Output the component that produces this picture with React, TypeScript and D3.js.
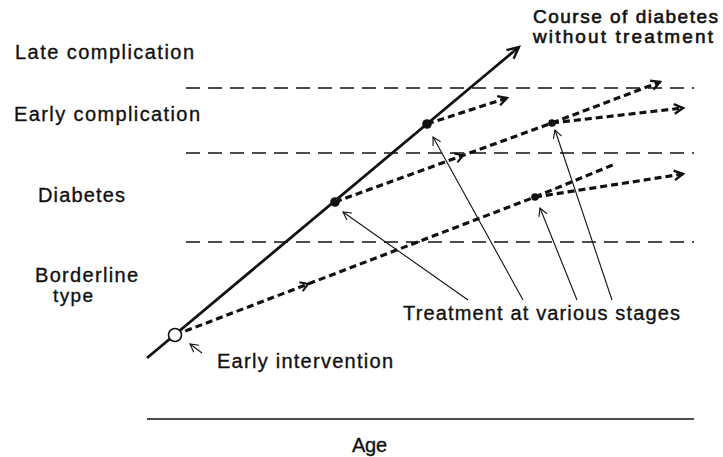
import * as d3 from 'd3';

// severity stages (bottom to top) and the dashed borders between them
const stageLabels = ['Late complication', 'Early complication', 'Diabetes', 'Borderline', 'type'];
const stageBorders = [82.75, 66.5, 44.25];
const borderAgeRange = [7.13, 100];

// untreated course: [age, stage]
const naturalCourse: [number, number][] = [
  [0, 15.25],
  [68, 93],
];

// where treatment starts on the natural course
const startAges = [5.12, 34.37, 51.19];
const startStages = [21, 54.25, 73.75];

// later treatment points reached on the treated paths
const laterAges = [70.93, 74.04];
const laterStages = [55.5, 74];

// treated courses: from, to, arrow head at the end, arrow in the middle
const pathFrom: [number, number][] = [
  [5.12, 21], [70.93, 55.5], [70.93, 55.5],
  [34.37, 54.25], [74.04, 74], [74.04, 74],
  [51.19, 73.75],
];
const pathTo: [number, number][] = [
  [70.93, 55.5], [85.56, 63.75], [97.99, 61.25],
  [74.04, 74], [93.78, 84.25], [97.99, 77.75],
  [65.81, 80.25],
];
const pathHead = [false, false, true, false, true, true, true];
const pathMid = [0.37, 0, 0, 0.59, 0, 0, 0];

// thin pointers from the labels: [fromAge, fromStage, toAge, toStage]
const pointers: [number, number, number, number][] = [
  [58.68, 29.75, 35.83, 51.75],
  [68.74, 29.75, 52.29, 70.5],
  [78.61, 29.75, 71.85, 52.75],
  [85.01, 29.75, 74.59, 72.25],
  [10.05, 16.5, 7.86, 18.75],
];

const W = 723;
const H = 457;
const FONT = '"Liberation Sans", Arial, sans-serif';

const x = d3.scaleLinear().domain([0, 100]).range([147, 694]);
const y = d3.scaleLinear().domain([0, 100]).range([419, 19]);

const line = d3.line<[number, number]>().x((d) => x(d[0])).y((d) => y(d[1]));

// open V head with its tip at (tx, ty) pointing along (dx, dy)
const vHead = (tx: number, ty: number, dx: number, dy: number, len: number, spread = 0.45) => {
  const a = Math.atan2(dy, dx);
  const p1 = [tx - len * Math.cos(a - spread), ty - len * Math.sin(a - spread)];
  const p2 = [tx - len * Math.cos(a + spread), ty - len * Math.sin(a + spread)];
  return `M${p1[0]},${p1[1]}L${tx},${ty}L${p2[0]},${p2[1]}`;
};

const Label = ({ tx, ty, len, children, size = 20, weight = 0.35 }: any) => (
  <text
    x={tx}
    y={ty}
    textLength={len}
    lengthAdjust="spacing"
    fontFamily={FONT}
    fontSize={size}
    fill="#111"
    stroke="#111"
    strokeWidth={weight}
  >
    {children}
  </text>
);

export default function App() {
  const nc0 = naturalCourse[0];
  const nc1 = naturalCourse[1];

  return (
    <svg width={W} height={H} style={{ position: 'absolute', left: 0, top: 0, background: '#fff' }}>
      {/* stage borders */}
      {stageBorders.map((s, i) => (
        <line
          key={i}
          x1={x(borderAgeRange[0])}
          x2={x(borderAgeRange[1])}
          y1={y(s)}
          y2={y(s)}
          stroke="#111"
          strokeWidth={1.4}
          strokeDasharray="14,8"
        />
      ))}

      {/* age axis */}
      <line x1={x(0)} x2={x(100)} y1={y(0)} y2={y(0)} stroke="#111" strokeWidth={1.4} />

      {/* thin pointers */}
      {pointers.map((p, i) => {
        const x0 = x(p[0]), y0 = y(p[1]), x1 = x(p[2]), y1 = y(p[3]);
        return (
          <g key={i} fill="none" stroke="#111" strokeWidth={1.1}>
            <line x1={x0} y1={y0} x2={x1} y2={y1} />
            <path d={vHead(x1, y1, x1 - x0, y1 - y0, 9, 0.5)} />
          </g>
        );
      })}

      {/* treated courses */}
      {pathFrom.map((f, i) => {
        const t = pathTo[i];
        const x0 = x(f[0]), y0 = y(f[1]), x1 = x(t[0]), y1 = y(t[1]);
        const m = pathMid[i];
        return (
          <g key={i} fill="none" stroke="#111" strokeWidth={3.2}>
            <path d={line([f, t]) ?? ''} strokeDasharray="7,4" />
            {pathHead[i] && <path d={vHead(x1, y1, x1 - x0, y1 - y0, 10, 0.5)} strokeWidth={2.4} />}
            {m > 0 && (
              <path
                d={vHead(x0 + m * (x1 - x0), y0 + m * (y1 - y0), x1 - x0, y1 - y0, 9, 0.55)}
                strokeWidth={2}
              />
            )}
          </g>
        );
      })}

      {/* natural course */}
      <path d={line(naturalCourse) ?? ''} fill="none" stroke="#111" strokeWidth={2.8} />
      <path
        d={vHead(x(nc1[0]), y(nc1[1]), x(nc1[0]) - x(nc0[0]), y(nc1[1]) - y(nc0[1]), 13, 0.45)}
        fill="none"
        stroke="#111"
        strokeWidth={2.4}
      />

      {/* treatment points */}
      {startAges.map((a, i) => (
        <circle
          key={i}
          cx={x(a)}
          cy={y(startStages[i])}
          r={i === 0 ? 6.5 : 4.8}
          fill={i === 0 ? '#fff' : '#111'}
          stroke="#111"
          strokeWidth={i === 0 ? 1.6 : 0}
        />
      ))}
      {laterAges.map((a, i) => (
        <circle key={i} cx={x(a)} cy={y(laterStages[i])} r={3.8} fill="#111" />
      ))}

      {/* stage labels */}
      <Label tx={15} ty={59} len={179}>{stageLabels[0]}</Label>
      <Label tx={14} ty={121} len={186}>{stageLabels[1]}</Label>
      <Label tx={38} ty={202} len={87}>{stageLabels[2]}</Label>
      <Label tx={35} ty={282} len={103}>{stageLabels[3]}</Label>
      <Label tx={53} ty={302} len={40} size={19}>{stageLabels[4]}</Label>

      {/* annotations */}
      <Label tx={533} ty={23} len={185} size={19} weight={0.6}>Course of diabetes</Label>
      <Label tx={533} ty={43} len={180} size={19} weight={0.6}>without treatment</Label>
      <Label tx={403} ty={320} len={277}>Treatment at various stages</Label>
      <Label tx={217} ty={368} len={176}>Early intervention</Label>
      <Label tx={352} ty={452} len={35}>Age</Label>
    </svg>
  );
}
